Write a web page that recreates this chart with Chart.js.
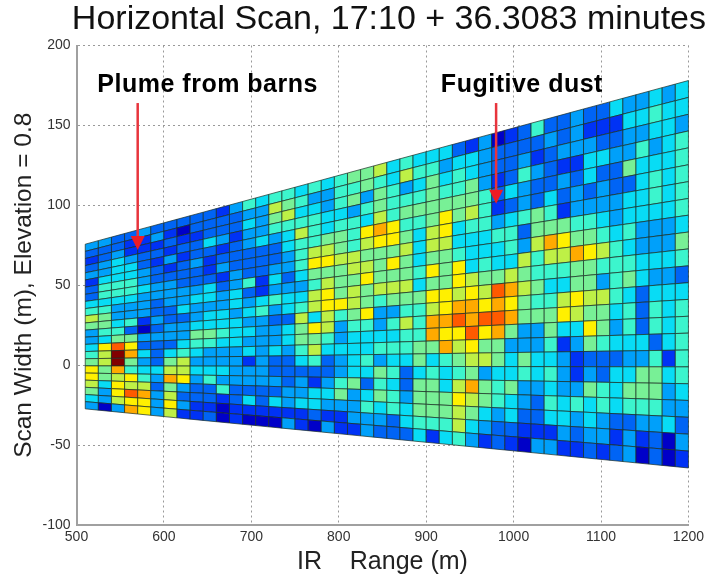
<!DOCTYPE html>
<html>
<head>
<meta charset="utf-8">
<title>Horizontal Scan</title>
<script src="https://cdn.jsdelivr.net/npm/chart.js@4"></script>
<style>
  html, body { margin: 0; padding: 0; background: #fff; }
  canvas { display: block; filter: blur(0.4px); }
</style>
</head>
<body>
<canvas id="chart" width="708" height="575"></canvas>
<script>
const titleText = 'Horizontal Scan, 17:10 + 36.3083 minutes'
const xTitle = 'IR    Range (m)'
const yTitle = 'Scan Width (m), Elevation = 0.8'
const xTicks = [500, 600, 700, 800, 900, 1000, 1100, 1200]
const yTicks = [-100, -50, 0, 50, 100, 150, 200]

// range gate edges (m)
const rangeEdges = [510, 525, 540, 555, 570, 585, 600, 615, 630, 645, 660, 675, 690, 705, 720, 735, 750, 765, 780, 795, 810, 825, 840, 855, 870, 885, 900, 915, 930, 945, 960, 975, 990, 1005, 1020, 1035, 1050, 1065, 1080, 1095, 1110, 1125, 1140, 1155, 1170, 1185, 1200]
// scan ray edges, as width per metre of range, top to bottom
const raySlopes = [0.1484, 0.1396, 0.1308, 0.1221, 0.1133, 0.1045, 0.0957, 0.0869, 0.0782, 0.0694, 0.0606, 0.0518, 0.0430, 0.0343, 0.0255, 0.0167, 0.0079, -0.0009, -0.0097, -0.0184, -0.0272, -0.0360, -0.0448, -0.0536]

// one list per range gate, top ray first. level 0 = dark blue, 11 = dark red
const gateLevels = [
  [3,2,1,2,3,1,2,2,4,5,7,6,3,3,4,5,6,8,8,7,6,4,3],
  [3,2,2,3,3,4,5,5,4,5,6,6,5,4,8,7,7,6,6,4,3,3,0],
  [2,2,3,4,4,4,5,5,4,3,3,4,5,6,10,11,11,9,7,8,8,7,3],
  [2,1,1,3,4,4,5,5,4,3,3,5,2,6,8,9,6,5,8,7,10,8,9],
  [3,1,1,2,2,3,3,4,3,3,3,1,0,3,2,4,3,4,5,7,9,8,8],
  [2,3,1,2,1,2,2,3,3,2,2,3,2,3,2,2,2,4,3,2,3,3,3],
  [2,1,2,1,3,1,2,3,3,3,2,2,3,3,2,4,6,7,9,6,7,8,7],
  [2,0,1,2,1,2,2,2,3,3,4,2,3,3,4,5,7,7,8,3,2,3,1],
  [2,2,1,2,2,3,2,2,3,4,3,3,4,6,5,4,3,4,3,2,2,1,1],
  [2,2,2,4,2,1,1,2,4,4,3,4,4,6,5,3,3,4,5,2,2,1,2],
  [1,2,2,3,1,2,3,1,2,3,3,4,4,5,4,3,3,4,3,5,1,0,0],
  [3,2,2,1,2,2,2,3,3,4,4,3,4,4,4,3,3,3,3,2,2,1,1],
  [5,3,4,3,3,2,2,2,5,2,3,4,3,4,3,4,1,3,3,2,4,1,0],
  [4,3,3,3,4,2,2,2,1,1,4,5,3,3,3,3,3,3,3,2,2,1,0],
  [5,7,6,5,3,2,2,3,4,3,5,3,2,3,3,4,2,2,3,2,4,1,0],
  [5,6,7,5,4,4,3,3,2,3,4,4,2,4,4,3,2,2,2,3,3,1,3],
  [4,5,4,5,7,5,5,5,4,3,4,5,7,6,6,5,4,2,3,3,4,1,1],
  [5,3,4,5,5,5,7,8,6,5,7,7,4,8,6,7,5,2,1,4,4,2,0],
  [4,3,3,4,4,6,7,8,6,7,8,8,7,7,5,4,2,2,3,4,3,1,3],
  [5,5,5,4,5,6,6,7,6,6,6,8,5,3,3,4,3,3,5,6,3,1,1],
  [6,5,6,3,5,5,5,7,7,6,7,7,6,5,4,4,4,4,6,3,3,3,1],
  [6,6,3,5,4,8,7,6,7,8,6,6,8,5,4,4,5,4,2,4,5,3,3],
  [7,5,6,6,7,9,8,6,6,6,7,5,3,3,4,5,3,6,5,6,4,3,2],
  [4,4,5,5,5,8,8,6,8,6,7,6,3,5,4,5,4,5,4,5,5,2,2],
  [5,7,3,5,6,5,6,7,6,6,7,6,5,7,5,5,4,2,2,3,4,4,2],
  [4,5,4,5,6,5,4,4,4,5,4,6,5,5,5,6,6,4,6,6,6,5,4],
  [4,5,6,6,6,6,7,7,6,8,6,8,7,9,9,6,4,5,6,6,6,5,1],
  [4,3,4,5,6,8,8,7,6,6,6,8,8,9,8,9,5,4,4,6,6,5,4],
  [2,4,5,5,6,6,4,4,5,8,8,7,9,10,8,7,6,5,7,8,7,7,5],
  [1,4,4,6,6,7,5,4,4,4,7,8,9,9,10,8,7,6,9,7,6,4,3],
  [3,3,3,3,5,5,5,4,4,5,6,7,8,10,8,6,7,3,6,6,4,3,1],
  [0,2,2,1,2,1,3,5,4,4,6,10,9,10,9,6,6,4,5,5,3,2,2],
  [1,2,2,2,4,2,4,5,5,4,7,9,8,9,6,3,4,4,6,4,4,2,1],
  [2,2,3,5,3,3,5,2,3,7,6,7,6,6,3,3,6,5,3,3,2,1,0],
  [5,2,1,3,2,2,6,6,7,5,5,6,5,6,3,3,4,4,3,2,2,1,3],
  [2,3,2,2,2,4,5,6,9,7,5,4,5,6,6,5,4,5,4,5,4,1,3],
  [2,2,3,1,3,2,1,6,8,7,5,4,7,8,4,1,3,3,3,4,4,3,1],
  [3,3,3,1,2,3,3,5,6,9,6,6,8,7,4,3,1,1,3,5,3,2,1],
  [2,1,3,4,4,2,3,5,6,8,6,6,7,6,8,6,2,3,6,4,4,3,2],
  [2,1,2,4,2,3,3,4,5,7,5,3,7,6,6,5,2,2,5,5,3,3,1],
  [4,1,2,3,2,2,3,3,4,5,5,5,5,4,3,4,2,4,4,4,2,1,2],
  [3,4,3,3,6,2,4,4,5,4,5,6,4,5,5,4,3,4,6,5,2,3,3],
  [3,4,3,5,4,4,4,4,3,3,4,4,2,2,2,4,3,6,6,5,3,1,0],
  [4,5,4,3,4,5,5,4,3,3,4,3,4,5,5,2,5,6,6,5,3,2,2],
  [3,4,4,4,4,4,4,4,3,3,4,3,4,4,4,4,1,4,3,3,4,0,0],
  [4,4,3,5,5,5,5,5,4,6,5,2,4,5,5,5,5,5,4,3,2,3,1]
]

const levelColors = ['#0000c8', '#0032f5', '#0064f5', '#00a0fa', '#08dcf5', '#3cf5cd', '#78f096', '#bef046', '#fff000', '#ffaa00', '#ff5a00', '#820000']

// callouts in data units
const calloutNames = ['Plume from barns', 'Fugitive dust']
const calloutTextX = [650, 1009.5]
const calloutTextY = [175.5, 175.5]
const arrowX = [570, 980]
const arrowFrom = [164, 164]
const arrowTo = [72, 101]

const fontName = '"Liberation Sans", Arial, sans-serif'

const cells = []
gateLevels.forEach((levels, g) => {
    levels.forEach((level, r) => {
        const x0 = rangeEdges[g], x1 = rangeEdges[g + 1]
        cells.push({
            x: (x0 + x1) / 2,
            y: (x0 + x1) / 2 * (raySlopes[r] + raySlopes[r + 1]) / 2,
            level: level,
            corners: [
                [x0, x0 * raySlopes[r]], [x1, x1 * raySlopes[r]],
                [x1, x1 * raySlopes[r + 1]], [x0, x0 * raySlopes[r + 1]]
            ]
        })
    })
})

const scanCells = {
    id: 'scanCells',
    afterLayout(chart) {
        // title overhangs the plot on the right in the original
        chart.titleBlock.right = 706
    },
    beforeDatasetsDraw(chart) {
        const ctx = chart.ctx
        const xs = chart.scales.x, ys = chart.scales.y
        ctx.save()
        chart.data.datasets[0].data.forEach(cell => {
            ctx.beginPath()
            cell.corners.forEach(c => ctx.lineTo(xs.getPixelForValue(c[0]), ys.getPixelForValue(c[1])))
            ctx.closePath()
            ctx.fillStyle = levelColors[cell.level]
            ctx.fill()
            ctx.lineWidth = 1
            ctx.strokeStyle = 'rgba(25,45,35,0.7)'
            ctx.stroke()
        })
        ctx.restore()
    }
}

const callouts = {
    id: 'callouts',
    afterDatasetsDraw(chart) {
        const ctx = chart.ctx
        const xs = chart.scales.x, ys = chart.scales.y
        ctx.save()
        arrowX.forEach((ax, i) => {
            const px = xs.getPixelForValue(ax)
            const top = ys.getPixelForValue(arrowFrom[i])
            const tip = ys.getPixelForValue(arrowTo[i])
            ctx.strokeStyle = '#e8343c'
            ctx.fillStyle = '#ee1c25'
            ctx.lineWidth = 2.5
            ctx.beginPath()
            ctx.moveTo(px, top)
            ctx.lineTo(px, tip - 10)
            ctx.stroke()
            ctx.beginPath()
            ctx.moveTo(px - 7, tip - 14)
            ctx.lineTo(px + 7, tip - 14)
            ctx.lineTo(px, tip)
            ctx.closePath()
            ctx.fill()
            ctx.fillStyle = '#000'
            ctx.font = 'bold 25px ' + fontName
            ctx.letterSpacing = '0.5px'
            ctx.textAlign = 'center'
            ctx.textBaseline = 'middle'
            ctx.fillText(calloutNames[i], xs.getPixelForValue(calloutTextX[i]), ys.getPixelForValue(calloutTextY[i]))
        })
        ctx.restore()
    }
}

const gridStyle = { color: '#999', lineWidth: 1, drawTicks: false }
const borderStyle = { color: '#a0a0a0', width: 2, dash: [2, 3] }

new Chart(document.getElementById('chart').getContext('2d'), {
    type: 'scatter',
    data: {
        datasets: [{ label: 'levels', data: cells, pointRadius: 0, pointHoverRadius: 0 }]
    },
    plugins: [scanCells, callouts],
    options: {
        responsive: false,
        animation: false,
        events: [],
        layout: { autoPadding: false, padding: { left: 0, right: 18, top: 0, bottom: 0 } },
        plugins: {
            legend: { display: false },
            tooltip: { enabled: false },
            title: {
                display: true,
                text: titleText,
                color: '#111',
                align: 'end',
                font: { family: fontName, size: 34, weight: 'normal', lineHeight: 1 },
                padding: { top: 3, bottom: 8.5 }
            }
        },
        scales: {
            x: {
                type: 'linear',
                min: 500,
                max: 1200,
                afterBuildTicks: s => { s.ticks = xTicks.map(v => ({ value: v })) },
                afterFit: s => { s.height = 50 },
                grid: gridStyle,
                border: borderStyle,
                ticks: { color: '#333', padding: 4, maxRotation: 0, callback: v => String(v), font: { family: fontName, size: 14 } },
                title: { display: true, text: xTitle, color: '#222', padding: { top: 0, bottom: 0 }, font: { family: fontName, size: 25, lineHeight: 1 } }
            },
            y: {
                type: 'linear',
                min: -100,
                max: 200,
                afterBuildTicks: s => { s.ticks = yTicks.map(v => ({ value: v })) },
                afterFit: s => { s.width = 76.5 },
                grid: gridStyle,
                border: borderStyle,
                ticks: { color: '#333', padding: 6, callback: v => String(v), font: { family: fontName, size: 14 } },
                title: { display: true, text: yTitle, color: '#222', padding: { top: 10, bottom: 0 }, font: { family: fontName, size: 24.5 } }
            }
        }
    }
})
</script>
</body>
</html>
